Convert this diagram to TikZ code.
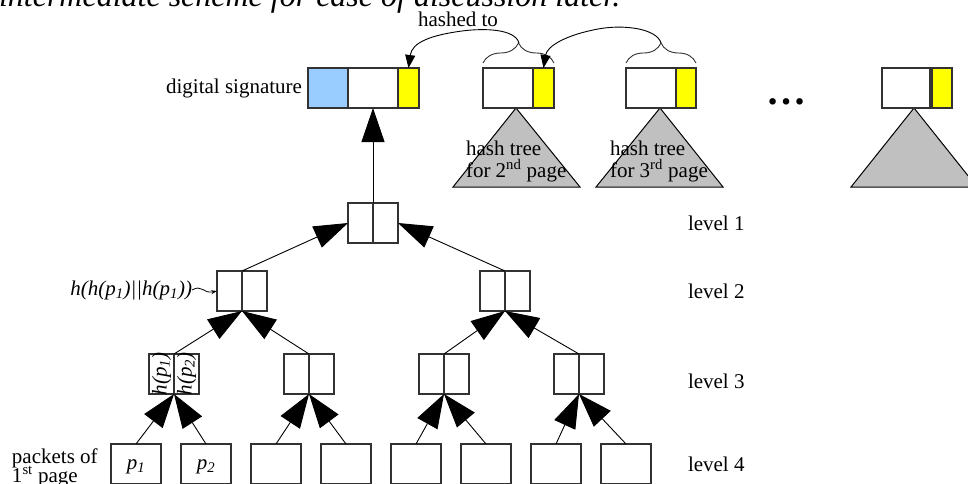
\documentclass[tikz,border=0pt]{standalone}
\usepackage{fontspec}
\setmainfont{Liberation Serif}
\usetikzlibrary{arrows.meta,decorations.pathreplacing}
\definecolor{sigblue}{RGB}{153,204,255}
\definecolor{hyellow}{RGB}{255,255,0}
\definecolor{treegray}{RGB}{192,192,192}
\definecolor{boxline}{RGB}{50,50,50}
\begin{document}
\begin{tikzpicture}[x=1pt,y=-1pt,
  font=\fontsize{21}{22}\selectfont,
  cell/.style={draw=boxline, line width=1.1pt, minimum height=40pt, inner sep=0pt, outer sep=0pt},
  half/.style={cell, minimum width=25pt},
  leaf/.style={cell, minimum width=50pt},
  tri/.style={draw=black, line width=1pt, fill=treegray, line join=miter},
  treeedge/.style={draw=black, line width=0.9pt, -{Triangle[length=34pt,width=23pt]}},
  hasharrow/.style={draw=black, line width=0.9pt, -{Triangle[length=13pt,width=10pt]}},
  bracestyle/.style={draw=black!80, line width=0.9pt, decorate, decoration={brace, amplitude=20pt}},
  lbl/.style={inner sep=0pt, outer sep=0pt}
]
\useasboundingbox (0,0) rectangle (968,484);

% cut-off line of text at the top
\node[lbl, anchor=base west, font=\fontsize{32}{32}\selectfont\itshape] (toptext) at (-1,7) {intermediate scheme for ease of discussion later.};

% hash trees of the other pages (triangles first, boxes on top)
\draw[tri] (516,108) -- (453,187) -- (580,187) -- cycle;
\draw[tri] (660,108) -- (596,187) -- (723,187) -- cycle;
\draw[tri] (914,108) -- (851,187) -- (977,187) -- cycle;

% digital signature packet
\node[cell, minimum width=40pt, fill=sigblue] (sigA) at (328,88) {};
\node[cell, minimum width=50pt, fill=white] (sigB) at (373,88) {};
\node[cell, minimum width=21pt, fill=hyellow] (sigC) at (408.5,88) {};
\node[lbl, anchor=east] (dslab) at ([xshift=-6pt]sigA.west) {digital signature};

% page 2, page 3 and last page packets
\node[cell, minimum width=50pt, fill=white] (p2w) at (508,88) {};
\node[cell, minimum width=21pt, fill=hyellow] (p2y) at (543.5,88) {};
\node[cell, minimum width=50pt, fill=white] (p3w) at (651,88) {};
\node[cell, minimum width=20pt, fill=hyellow] (p3y) at (686,88) {};
\node[cell, minimum width=48pt, fill=white] (lw) at (906,88) {};
\node[cell, minimum width=20pt, fill=hyellow] (ly) at (942,88) {};

\node[lbl, anchor=base west] (ht2a) at (466,155) {hash tree};
\node[lbl, anchor=base west] (ht2b) at (466,177) {for 2\textsuperscript{nd} page};
\node[lbl, anchor=base west] (ht3a) at (610,155) {hash tree};
\node[lbl, anchor=base west] (ht3b) at (610,177) {for 3\textsuperscript{rd} page};

\node[lbl, anchor=base, font=\fontsize{40}{40}\selectfont\bfseries] (dots) at (786,105) {…};

% braces and "hashed to" arrows
\draw[bracestyle] ([yshift=5pt]p2w.north west) -- ([yshift=5pt]p2y.north east);
\draw[bracestyle] ([yshift=5pt]p3w.north west) -- ([yshift=5pt]p3y.north east);
\coordinate (b2tip) at (519,43);
\coordinate (b3tip) at (661,43);
\node[lbl, anchor=base] (hashedto) at (458,27) {hashed to};
\draw[hasharrow] (b2tip) .. controls (515,29) and (485,28) .. (462,31) .. controls (432,35) and (412,42) .. (sigC.north);
\draw[hasharrow] (b3tip) .. controls (657,29) and (625,24) .. (598,29) .. controls (566,35) and (547,46) .. (p2y.north);

% level 1
\node[half] (l1a) at (360.5,223) {};
\node[half] (l1b) at (385.5,223) {};
% level 2
\node[half] (l2a) at (229.5,291) {};
\node[half] (l2b) at (254.5,291) {};
\node[half] (l2c) at (492.5,291) {};
\node[half] (l2d) at (517.5,291) {};
% level 3
\node[half] (l3a) at (161.5,374) {};
\node[half] (l3b) at (186.5,374) {};
\node[half] (l3c) at (296.5,374) {};
\node[half] (l3d) at (321.5,374) {};
\node[half] (l3e) at (431.5,374) {};
\node[half] (l3f) at (456.5,374) {};
\node[half] (l3g) at (566.5,374) {};
\node[half] (l3h) at (591.5,374) {};
% level 4
\node[leaf] (q1) at (136,464) {};
\node[leaf] (q2) at (206,464) {};
\node[leaf] (q3) at (276,464) {};
\node[leaf] (q4) at (346,464) {};
\node[leaf] (q5) at (416,464) {};
\node[leaf] (q6) at (486,464) {};
\node[leaf] (q7) at (556,464) {};
\node[leaf] (q8) at (626,464) {};

% labels inside boxes
\node[lbl, rotate=90, font=\fontsize{21}{22}\selectfont\itshape] (hp1) at (l3a) {h(p\textsubscript{1})};
\node[lbl, rotate=90, font=\fontsize{21}{22}\selectfont\itshape] (hp2) at (l3b) {h(p\textsubscript{2})};
\node[lbl, font=\fontsize{21}{22}\selectfont\itshape] (pp1) at (136,467) {p\textsubscript{1}};
\node[lbl, font=\fontsize{21}{22}\selectfont\itshape] (pp2) at (206,467) {p\textsubscript{2}};

% tree edges
\draw[treeedge] (q1.north) -- (l3a.south east);
\draw[treeedge] (q2.north) -- (l3a.south east);
\draw[treeedge] (q3.north) -- (l3c.south east);
\draw[treeedge] (q4.north) -- (l3c.south east);
\draw[treeedge] (q5.north) -- (l3e.south east);
\draw[treeedge] (q6.north) -- (l3e.south east);
\draw[treeedge] (q7.north) -- (l3g.south east);
\draw[treeedge] (q8.north) -- (l3g.south east);
\draw[treeedge] (l3a.north east) -- (l2a.south east);
\draw[treeedge] (l3c.north east) -- (l2a.south east);
\draw[treeedge] (l3e.north east) -- (l2c.south east);
\draw[treeedge] (l3g.north east) -- (l2c.south east);
\draw[treeedge] (l2a.north east) -- (l1a.west);
\draw[treeedge] (l2c.north east) -- (l1b.east);
\draw[treeedge] (l1a.north east) -- (sigB.south);

% left labels
\node[lbl, anchor=east, font=\fontsize{21}{22}\selectfont\itshape] (hlab) at (192,290) {h(h(p\textsubscript{1})||h(p\textsubscript{1}))};
\draw[draw=black, line width=0.8pt, -{Stealth[length=6pt,width=4pt]}] (hlab.east) .. controls (202,284) and (203,294) .. (l2a.west);
\node[lbl, anchor=base west] (pk1) at (12,463) {packets of};
\node[lbl, anchor=base west] (pk2) at (12,482) {1\textsuperscript{st} page};

% level labels
\node[lbl, anchor=west] (lv1) at (688,223) {level 1};
\node[lbl, anchor=west] (lv2) at (688,291) {level 2};
\node[lbl, anchor=west] (lv3) at (688,381) {level 3};
\node[lbl, anchor=west] (lv4) at (688,464) {level 4};
\end{tikzpicture}
\end{document}
